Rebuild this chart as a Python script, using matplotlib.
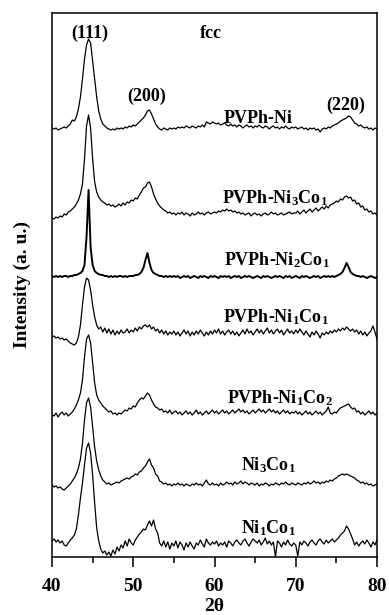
import numpy as np
import matplotlib
matplotlib.use('Agg')
import matplotlib.pyplot as plt

# XRD patterns (intensity in arbitrary units)
two_theta = np.arange(40, 80.01, 0.25)

pvph_ni = [
    1, 0, 1, -1, 0, 1, 2, 1, 3, 5, 9, 8, 12, 20, 32, 50, 70, 84, 90, 86,
    68, 50, 32, 18, 10, 5, 3, 1, 0, -1, 0, -1, 1, 0, 1, 0, 2, 1, 3, 2,
    4, 3, 5, 7, 9, 11, 14, 18, 19, 15, 10, 5, 2, 0, -1, 1, 0, -1, 1, 0,
    1, 0, 2, 1, 2, 1, 3, 2, 1, 3, 2, 1, 3, 2, 4, 2, 7, 6, 5, 7,
    6, 5, 6, 4, 5, 6, 4, 3, 5, 3, 4, 2, 4, 3, 1, 3, 4, 2, 3, 1,
    3, 2, 4, 2, 1, 3, 2, 0, 2, 3, 1, 2, 0, 2, 1, 3, 1, 0, 2, 1,
    2, 0, 1, 2, 0, 1, -1, 1, 0, 1, -1, 0, -3, 0, 1, 0, 2, 1, 3, 4,
    5, 6, 8, 9, 10, 11, 13, 12, 9, 6, 5, 3, 4, 2, 1, 2, 0, 1, -1, 1,
    0]
pvph_ni3co1 = [
    -4, -5, -3, -4, -2, -3, 0, -1, 2, 3, 5, 7, 10, 14, 20, 30, 55, 88, 99, 86,
    55, 32, 22, 17, 14, 12, 11, 9, 10, 8, 9, 7, 8, 10, 8, 11, 9, 12, 11, 14,
    13, 16, 15, 19, 22, 26, 27, 31, 32, 27, 20, 15, 11, 8, 6, 4, 3, 1, 2, 0,
    1, -1, 1, 0, 2, -1, 1, 0, -2, 1, -1, 0, 2, 0, 1, -1, 1, 2, 0, 1,
    2, 1, 3, 2, 4, 3, 5, 3, 4, 2, 3, 1, 2, 0, 1, -1, 0, 1, -2, 0,
    1, -1, 0, -2, 0, 1, -1, 0, 2, 0, 1, -1, 0, 1, -1, 0, 1, 2, 0, 1,
    1, 3, 0, 2, 4, 1, 3, 5, 2, 4, 6, 3, 5, 7, 5, 8, 6, 9, 10, 11,
    13, 12, 15, 14, 17, 18, 16, 17, 13, 14, 10, 11, 7, 8, 4, 5, 2, 3, 0, 1,
    -1]
pvph_ni2co1 = [
    1, 0, 1, 0, 1, 0, 1, 1, 0, 1, 1, 2, 2, 3, 4, 6, 12, 40, 87, 30,
    12, 6, 4, 3, 2, 2, 1, 1, 0, 1, 0, 1, 0, 1, 1, 0, 1, 0, 1, 1,
    1, 2, 2, 3, 5, 9, 17, 24, 14, 7, 4, 3, 2, 1, 1, 0, 1, 0, 1, 0,
    1, 0, 1, -1, 0, 1, 0, 1, -1, 0, 1, 0, -1, 1, 0, 1, 0, -1, 1, 0,
    1, 0, -1, 1, 0, 1, 0, 1, -1, 0, 1, 0, 1, -1, 0, 1, 0, 1, 0, -1,
    0, 1, 0, -1, 1, 0, 1, 0, -1, 0, 1, 0, 1, 0, -1, 1, 0, 1, -1, 0,
    1, 0, -1, 1, 0, 1, 0, -1, 0, 1, 0, 1, -1, 0, 1, 0, 1, 0, 1, 0,
    1, 2, 3, 5, 9, 14, 10, 5, 3, 2, 1, 1, 0, 1, 0, -1, 0, 1, 0, -1,
    0]
pvph_ni1co1 = [
    -2, -1, -3, -2, -4, -3, -5, -4, -6, -8, -9, -10, -8, -2, 10, 30, 48, 57, 55, 45,
    30, 18, 10, 6, 8, 3, 7, 2, 6, 1, 5, 0, 4, 1, 5, 2, 3, 6, 2, 5,
    3, 7, 4, 8, 6, 9, 10, 8, 10, 6, 8, 4, 6, 2, 5, 1, 4, 0, 3, 1,
    4, 0, 3, -1, 2, 5, 1, 4, -1, 3, 0, 4, 1, 5, 2, -1, 3, 0, 4, 1,
    5, 2, 6, 1, 4, 0, 3, 5, 1, 4, 0, 3, -1, 2, 5, 1, 6, 2, 4, 0,
    3, 6, 2, 5, 1, 4, 7, 2, 5, 1, 4, 6, 2, 5, 0, 3, 6, 2, 4, 1,
    5, 2, 6, 3, 0, 4, 1, -2, 3, 0, 4, 1, -3, 2, 0, 3, 1, 4, 2, 5,
    3, 6, 4, 7, 5, 8, 6, 4, 6, 3, 5, 1, 4, 0, 3, -1, 2, 4, 9, 3,
    -4]
pvph_ni1co2 = [
    0, -1, 2, -2, 1, 3, 0, 2, -1, 1, 3, 6, 10, 15, 22, 35, 58, 76, 80, 72,
    52, 32, 20, 15, 12, 9, 7, 5, 3, 4, 1, 2, 0, 2, 1, 3, 5, 4, 7, 6,
    9, 8, 12, 15, 17, 16, 19, 22, 20, 15, 11, 8, 7, 5, 6, 3, 4, 2, 5, 1,
    3, 4, 1, 3, 0, 2, 4, 1, 3, 0, 2, 5, 1, 3, 0, 2, 4, 1, 3, 5,
    2, 4, 1, 3, 5, 2, 4, 1, 3, 5, 2, 4, 6, 3, 5, 2, 4, 1, 3, 5,
    2, 4, 6, 3, 5, 2, 4, 6, 3, 5, 2, 4, 1, 3, 5, 2, 4, 1, 3, 2,
    4, 1, 3, 0, 2, 4, 1, 3, 0, 2, 4, 1, 3, 0, 2, 4, 8, 2, 1, 3,
    2, 5, 7, 8, 9, 10, 11, 8, 6, 7, 3, 4, 1, 3, 0, 2, 4, 1, 3, 0,
    2]
ni3co1 = [
    0, -2, -1, -3, -2, -4, -5, -3, -1, 1, 4, 7, 11, 17, 26, 42, 65, 82, 87, 78,
    58, 38, 24, 15, 9, 5, 3, 1, 2, 0, 1, 2, 3, 2, 4, 5, 6, 7, 6, 8,
    9, 11, 10, 13, 14, 17, 19, 23, 26, 20, 17, 11, 9, 4, 3, 1, 2, 0, 1, -1,
    1, 0, 2, 0, 1, -1, 1, 0, -1, 1, 0, 2, 0, 1, -1, 2, 5, 1, 0, 2,
    0, 1, -1, 2, 0, 1, 3, 1, 2, 0, 3, 1, 2, 4, 1, 3, 2, 0, 2, 1,
    0, 2, -1, 1, 0, 2, 1, -1, 1, 0, 2, 1, 0, 2, 1, 3, 1, 0, 2, 1,
    0, 2, 1, 0, 2, 1, 3, 1, 2, 4, 2, 3, 1, 3, 2, 4, 3, 5, 4, 6,
    7, 9, 10, 11, 10, 11, 10, 9, 8, 7, 5, 4, 2, 3, 1, 2, 0, 1, -1, 0,
    1]
ni1co1 = [
    2, 4, 1, 3, 0, 2, -2, -3, 0, 3, 5, 8, 14, 28, 45, 60, 78, 95, 100, 90,
    68, 40, 15, 2, -6, -10, -8, -12, -9, -13, -7, -11, -4, -8, -2, -5, 2, -3, 4, 0,
    -2, 3, 6, 9, 11, 14, 13, 18, 22, 17, 23, 14, 10, 0, -3, 2, -4, 1, -6, 0,
    -3, 2, -5, 1, -2, -7, 0, -4, 1, -3, -6, 0, -2, 3, -1, -4, 4, 0, -2, 1,
    -1, 2, -3, 0, -2, 1, -4, 2, 0, -3, 1, 3, 0, -2, 2, 4, 0, -3, 1, 4,
    2, 0, 3, -2, 1, 5, -1, 2, -2, 1, -14, 2, 0, -4, 1, -2, 3, -1, -3, 0,
    -2, -13, 1, -2, 2, 0, -3, 1, 3, 0, -2, 2, 4, 1, -1, 3, 0, 2, 4, 1,
    3, 5, 8, 10, 12, 17, 14, 9, 4, -2, 1, -3, 0, 2, -1, 3, 0, -4, 1, -2,
    3]

patterns = [pvph_ni, pvph_ni3co1, pvph_ni2co1, pvph_ni1co1, pvph_ni1co2, ni3co1, ni1co1]
names = ['PVPh-Ni', 'PVPh-Ni$_\\mathbf{3}$Co$_\\mathbf{1}$', 'PVPh-Ni$_\\mathbf{2}$Co$_\\mathbf{1}$',
         'PVPh-Ni$_\\mathbf{1}$Co$_\\mathbf{1}$', 'PVPh-Ni$_\\mathbf{1}$Co$_\\mathbf{2}$',
         'Ni$_\\mathbf{3}$Co$_\\mathbf{1}$', 'Ni$_\\mathbf{1}$Co$_\\mathbf{1}$']

# vertical stacking and label spots
offsets = [428, 343, 280, 222, 142, 72, 14]
lw = [0.9, 0.9, 1.4, 0.9, 0.9, 0.9, 0.9]
name_pos = [(65.4, 434), (67.45, 354), (67.7, 292), (67.6, 235), (68.1, 154), (66.6, 87), (66.6, 24)]

plt.rcParams['font.family'] = ['Liberation Serif', 'DejaVu Serif']
plt.rcParams['font.weight'] = 'bold'
plt.rcParams['mathtext.fontset'] = 'custom'
plt.rcParams['mathtext.rm'] = 'Liberation Serif:bold'
plt.rcParams['mathtext.bf'] = 'Liberation Serif:bold'
plt.rcParams['mathtext.it'] = 'Liberation Serif:bold:italic'

fig = plt.figure(figsize=(3.89, 6.15), dpi=100)
ax = fig.add_axes([52/389, 1 - 557/615, 325/389, 544/615])

for y, off, w in zip(patterns, offsets, lw):
    ax.plot(two_theta, np.array(y) + off, color='black', linewidth=w)

for name, (x, y) in zip(names, name_pos):
    ax.text(x, y, name, fontsize=13, fontweight='bold', ha='center', va='baseline')

ax.text(44.7, 524, '(111)', fontsize=13, fontweight='bold', ha='center', va='center')
ax.text(59.6, 519, 'fcc', fontsize=13, fontweight='bold', ha='center', va='baseline')
ax.text(51.6, 461, '(200)', fontsize=13, fontweight='bold', ha='center', va='center')
ax.text(76.1, 452, '(220)', fontsize=13, fontweight='bold', ha='center', va='center')

ax.set_xlim(40, 80)
ax.set_ylim(0, 544)
ax.set_yticks([])
ax.set_xticks([40, 50, 60, 70, 80])
ax.set_xticks([45, 55, 65, 75], minor=True)
ax.tick_params(axis='x', which='major', direction='out', length=7, width=1.1, labelsize=14, pad=8)
ax.tick_params(axis='x', which='minor', direction='out', length=4.5, width=1.1)
for s in ax.spines.values():
    s.set_linewidth(1.1)

ax.set_xlabel('2θ', fontsize=14, fontweight='bold', labelpad=2)
ax.set_ylabel('Intensity (a. u.)', fontsize=14, fontweight='bold', labelpad=15)

plt.savefig('out.png', dpi=100)
